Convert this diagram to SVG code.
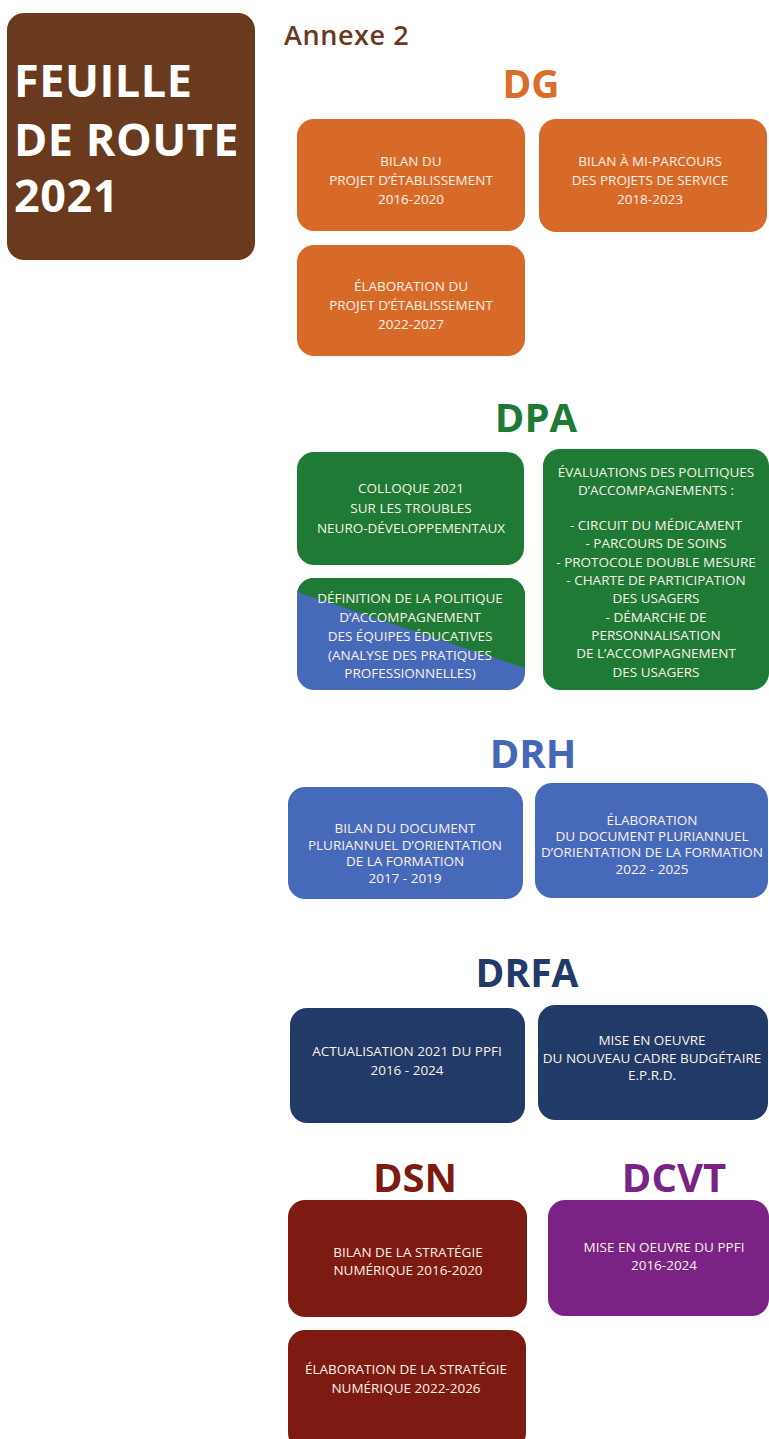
<svg xmlns="http://www.w3.org/2000/svg" width="769" height="1439" viewBox="0 0 769 1439">
<defs>
<style>
.h{font-family:"Open Sans","Liberation Sans",sans-serif;font-weight:700;text-anchor:middle}
.t{font-family:"Open Sans","Liberation Sans",sans-serif;font-size:13.5px;fill:#FBF1E8;text-anchor:middle}
.org{fill:#D86A29}
.grn{fill:#1E7A35}
.blu{fill:#4769BA}
.nav{fill:#223A67}
.red{fill:#7D1A12}
.pur{fill:#7A2384}
</style>
<clipPath id="splitClip"><rect x="297" y="578" width="228" height="112" rx="17"/></clipPath>
</defs>
<rect width="769" height="1439" fill="#FFFFFF"/>

<g id="title">
<rect x="7" y="13" width="248" height="247" rx="17" fill="#6A3A1F"/>
<text font-family="'Open Sans','Liberation Sans',sans-serif" font-weight="700" font-size="45" letter-spacing="0.5" fill="#FFFFFF">
<tspan x="14" y="97">FEUILLE</tspan>
<tspan x="14" y="156">DE ROUTE</tspan>
<tspan x="14" y="212">2021</tspan>
</text>
</g>

<g id="annexe">
<text x="284" y="45" font-family="'Open Sans','Liberation Sans',sans-serif" font-weight="600" font-size="27" letter-spacing="0.6" fill="#6A3A1F">Annexe 2</text>
</g>

<!-- DG -->
<g id="dg-title"><text class="h" x="531" y="98" font-size="39" fill="#DC6C2A">DG</text></g>
<g id="dg-1">
<rect class="org" x="297" y="119" width="228" height="112" rx="17"/>
<text class="t"><tspan x="411" y="166">BILAN DU</tspan><tspan x="411" y="185">PROJET D’ÉTABLISSEMENT</tspan><tspan x="411" y="204">2016-2020</tspan></text>
</g>
<g id="dg-2">
<rect class="org" x="539" y="119" width="228" height="113" rx="17"/>
<text class="t"><tspan x="650" y="166">BILAN À MI-PARCOURS</tspan><tspan x="650" y="185">DES PROJETS DE SERVICE</tspan><tspan x="650" y="204">2018-2023</tspan></text>
</g>
<g id="dg-3">
<rect class="org" x="297" y="245" width="228" height="111" rx="17"/>
<text class="t"><tspan x="411" y="291">ÉLABORATION DU</tspan><tspan x="411" y="310">PROJET D’ÉTABLISSEMENT</tspan><tspan x="411" y="329">2022-2027</tspan></text>
</g>

<!-- DPA -->
<g id="dpa-title"><text class="h" x="536" y="432" font-size="40" fill="#1F7A36">DPA</text></g>
<g id="dpa-1">
<rect class="grn" x="297" y="452" width="227" height="113" rx="17"/>
<text class="t"><tspan x="411" y="493">COLLOQUE 2021</tspan><tspan x="411" y="513">SUR LES TROUBLES</tspan><tspan x="411" y="533">NEURO-DÉVELOPPEMENTAUX</tspan></text>
</g>
<g id="dpa-2">
<g clip-path="url(#splitClip)">
<rect class="blu" x="297" y="578" width="228" height="112"/>
<polygon class="grn" points="297,578 525,578 525,668 297,592"/>
</g>
<text class="t"><tspan x="410" y="603">DÉFINITION DE LA POLITIQUE</tspan><tspan x="410" y="622">D’ACCOMPAGNEMENT</tspan><tspan x="410" y="641">DES ÉQUIPES ÉDUCATIVES</tspan><tspan x="410" y="660">(ANALYSE DES PRATIQUES</tspan><tspan x="410" y="678">PROFESSIONNELLES)</tspan></text>
</g>
<g id="dpa-3">
<rect class="grn" x="543" y="449" width="226" height="241" rx="17"/>
<text class="t"><tspan x="656" y="477">ÉVALUATIONS DES POLITIQUES</tspan><tspan x="656" y="495">D’ACCOMPAGNEMENTS :</tspan><tspan x="656" y="530">- CIRCUIT DU MÉDICAMENT</tspan><tspan x="656" y="548">- PARCOURS DE SOINS</tspan><tspan x="656" y="567">- PROTOCOLE DOUBLE MESURE</tspan><tspan x="656" y="585">- CHARTE DE PARTICIPATION</tspan><tspan x="656" y="603">DES USAGERS</tspan><tspan x="656" y="622">- DÉMARCHE DE</tspan><tspan x="656" y="640">PERSONNALISATION</tspan><tspan x="656" y="658">DE L’ACCOMPAGNEMENT</tspan><tspan x="656" y="677">DES USAGERS</tspan></text>
</g>

<!-- DRH -->
<g id="drh-title"><text class="h" x="533" y="768" font-size="40" fill="#4468B6">DRH</text></g>
<g id="drh-1">
<rect class="blu" x="288" y="787" width="235" height="112" rx="17"/>
<text class="t"><tspan x="405" y="833">BILAN DU DOCUMENT</tspan><tspan x="405" y="850">PLURIANNUEL D’ORIENTATION</tspan><tspan x="405" y="866">DE LA FORMATION</tspan><tspan x="405" y="883">2017 - 2019</tspan></text>
</g>
<g id="drh-2">
<rect class="blu" x="535" y="783" width="233" height="115" rx="17"/>
<text class="t"><tspan x="652" y="825">ÉLABORATION</tspan><tspan x="652" y="841">DU DOCUMENT PLURIANNUEL</tspan><tspan x="652" y="857">D’ORIENTATION DE LA FORMATION</tspan><tspan x="652" y="874">2022 - 2025</tspan></text>
</g>

<!-- DRFA -->
<g id="drfa-title"><text class="h" x="527" y="987" font-size="39" fill="#223A67">DRFA</text></g>
<g id="drfa-1">
<rect class="nav" x="290" y="1008" width="235" height="115" rx="17"/>
<text class="t"><tspan x="407" y="1056">ACTUALISATION 2021 DU PPFI</tspan><tspan x="407" y="1075">2016 - 2024</tspan></text>
</g>
<g id="drfa-2">
<rect class="nav" x="538" y="1005" width="230" height="115" rx="17"/>
<text class="t"><tspan x="652" y="1045">MISE EN OEUVRE</tspan><tspan x="652" y="1063">DU NOUVEAU CADRE BUDGÉTAIRE</tspan><tspan x="652" y="1080">E.P.R.D.</tspan></text>
</g>

<!-- DSN -->
<g id="dsn-title"><text class="h" x="415" y="1192" font-size="40" fill="#7D1A12">DSN</text></g>
<g id="dsn-1">
<rect class="red" x="288" y="1200" width="239" height="117" rx="17"/>
<text class="t"><tspan x="408" y="1257">BILAN DE LA STRATÉGIE</tspan><tspan x="408" y="1275">NUMÉRIQUE 2016-2020</tspan></text>
</g>
<g id="dsn-2">
<rect class="red" x="288" y="1330" width="238" height="120" rx="17"/>
<text class="t"><tspan x="406" y="1374">ÉLABORATION DE LA STRATÉGIE</tspan><tspan x="406" y="1393">NUMÉRIQUE 2022-2026</tspan></text>
</g>

<!-- DCVT -->
<g id="dcvt-title"><text class="h" x="674" y="1192" font-size="40" fill="#7A2384">DCVT</text></g>
<g id="dcvt-1">
<rect class="pur" x="548" y="1200" width="221" height="116" rx="17"/>
<text class="t"><tspan x="664" y="1252">MISE EN OEUVRE DU PPFI</tspan><tspan x="664" y="1270">2016-2024</tspan></text>
</g>

<g id="connectors"></g>
</svg>
